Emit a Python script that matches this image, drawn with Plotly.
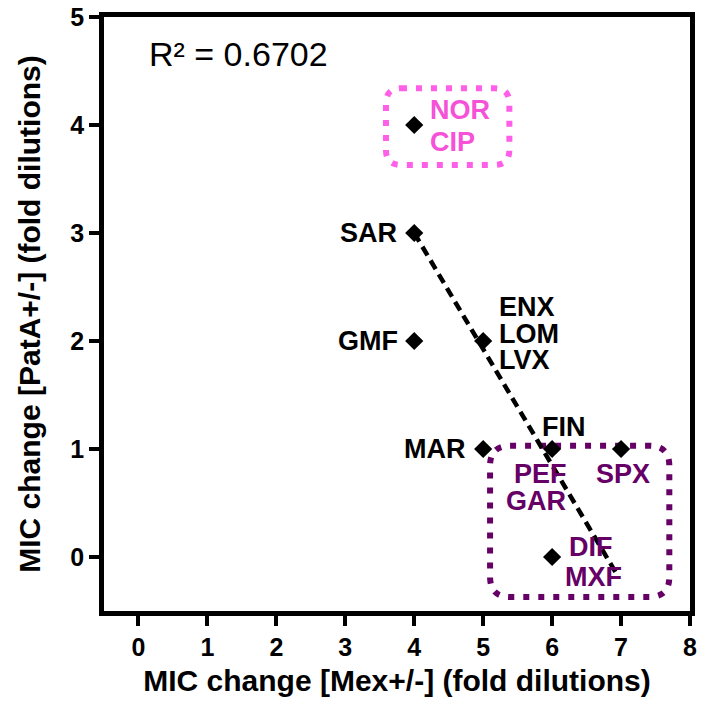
import plotly.graph_objects as go

# MIC shift per drug: Mex+/- (x) against PatA+/- (y), in fold dilutions
mex_change = [4, 4, 4, 5, 5, 6, 7, 6]
pata_change = [4, 3, 2, 2, 1, 1, 1, 0]

# drug names placed next to their points
label_text = ["NOR", "CIP", "SAR", "GMF", "ENX", "LOM", "LVX", "MAR",
              "FIN", "PEF", "GAR", "SPX", "DIF", "MXF"]
label_x = [4, 4, 4, 4, 5, 5, 5, 5, 6, 6, 6, 7, 6, 6]
label_y = [4, 4, 3, 2, 2, 2, 2, 1, 1, 1, 1, 1, 0, 0]
label_group = ["pink", "pink", "none", "none", "none", "none", "none", "none",
               "none", "purple", "purple", "purple", "purple", "purple"]

# linear trend line and its fit quality
trend_x = [4.0, 6.92]
trend_y = [3.0, -0.14]
r_squared = 0.6702

# extents of the two highlighted drug groups
group_x = {"pink": [3.59, 5.38], "purple": [5.10, 7.70]}
group_y = {"pink": [3.63, 4.34], "purple": [-0.37, 1.03]}

x_ticks = [0, 1, 2, 3, 4, 5, 6, 7, 8]
y_ticks = [0, 1, 2, 3, 4, 5]

FONT = "Liberation Sans, Arial, sans-serif"
COLORS = {"none": "#000000", "pink": "#F552D8", "purple": "#660066"}
BOX_COLORS = {"pink": "#FF5FE8", "purple": "#660066"}

X_RANGE = [-0.5, 8]
Y_RANGE = [-0.5, 5]
W, H = 701, 704
M = dict(l=104, r=11, t=17, b=93)
px_x = (W - M["l"] - M["r"]) / (X_RANGE[1] - X_RANGE[0])
px_y = (H - M["t"] - M["b"]) / (Y_RANGE[1] - Y_RANGE[0])

# pixel offsets for each label relative to its point: (xshift, yshift, xanchor)
label_offsets = {
    "NOR": (14, 15, "left"), "CIP": (14, -17, "left"),
    "SAR": (-15, 0, "right"), "GMF": (-14, 0, "right"),
    "ENX": (14, 34, "left"), "LOM": (14, 7, "left"), "LVX": (14, -19, "left"),
    "MAR": (-15, 0, "right"), "FIN": (12, 22, "center"),
    "PEF": (-12, -25, "center"), "GAR": (-16, -52, "center"),
    "SPX": (2, -25, "center"),
    "DIF": (15, 10, "left"), "MXF": (11, -20, "left"),
}

fig = go.Figure()

fig.add_trace(go.Scatter(
    x=trend_x, y=trend_y, mode="lines",
    line=dict(color="black", width=4.5, dash="10px,6px"),
    hoverinfo="skip", showlegend=False,
))

fig.add_trace(go.Scatter(
    x=mex_change, y=pata_change, mode="markers",
    marker=dict(symbol="diamond", size=14, color="black"),
    showlegend=False,
))


def rounded_box(xs, ys, r_px):
    x0, x1 = xs
    y0, y1 = ys
    rx, ry = r_px / px_x, r_px / px_y
    return (f"M {x0 + rx},{y1} L {x1 - rx},{y1} Q {x1},{y1} {x1},{y1 - ry} "
            f"L {x1},{y0 + ry} Q {x1},{y0} {x1 - rx},{y0} "
            f"L {x0 + rx},{y0} Q {x0},{y0} {x0},{y0 + ry} "
            f"L {x0},{y1 - ry} Q {x0},{y1} {x0 + rx},{y1} Z")


shapes = []
for g, r in (("pink", 15), ("purple", 20)):
    shapes.append(dict(
        type="path", xref="x", yref="y",
        path=rounded_box(group_x[g], group_y[g], r),
        line=dict(color=BOX_COLORS[g], width=6, dash="6px,9px"),
        layer="below",
    ))

annotations = []
for t, x, y, g in zip(label_text, label_x, label_y, label_group):
    dx, dy, anchor = label_offsets[t]
    annotations.append(dict(
        x=x, y=y, xref="x", yref="y", text=t, showarrow=False,
        xanchor=anchor, yanchor="middle", xshift=dx, yshift=dy,
        font=dict(family=FONT, size=27, color=COLORS[g], weight="bold"),
    ))

annotations.append(dict(
    x=0.073, y=0.938, xref="paper", yref="paper",
    text=f"R² = {r_squared:.4f}", showarrow=False,
    xanchor="left", yanchor="middle",
    font=dict(family=FONT, size=34, color="black"),
))

axis_common = dict(
    showline=True, linecolor="black", linewidth=4.5, mirror=True,
    ticks="outside", ticklen=10, tickwidth=4, tickcolor="black",
    showgrid=False, zeroline=False, automargin=False,
    tickfont=dict(family=FONT, size=25, color="black", weight="bold"),
)

fig.update_layout(
    width=W, height=H, margin=M,
    plot_bgcolor="white", paper_bgcolor="white",
    shapes=shapes, annotations=annotations,
    xaxis=dict(
        range=X_RANGE, tickvals=x_ticks, **axis_common,
        title=dict(text="MIC change [Mex+/-] (fold dilutions)", standoff=12,
                   font=dict(family=FONT, size=30, color="black", weight="bold")),
    ),
    yaxis=dict(
        range=Y_RANGE, tickvals=y_ticks, **axis_common,
        title=dict(text="MIC change [PatA+/-] (fold dilutions)", standoff=22,
                   font=dict(family=FONT, size=30, color="black", weight="bold")),
    ),
)

fig.write_html("out.html")
